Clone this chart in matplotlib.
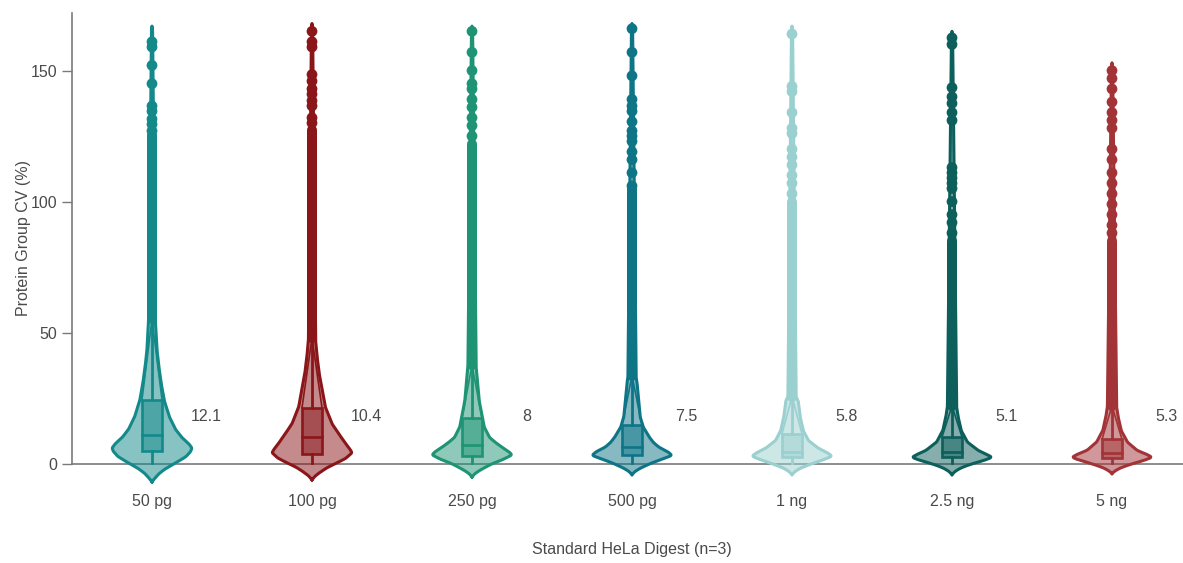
import numpy as np
import matplotlib
matplotlib.use("Agg")
import matplotlib.pyplot as plt

# categories and colours
categories = ["50 pg", "100 pg", "250 pg", "500 pg", "1 ng", "2.5 ng", "5 ng"]
colors = ["#13898A", "#8A161A", "#1E9474", "#0E7587", "#9AD0CF", "#0D5F5C", "#A23336"]
median_labels = ["12.1", "10.4", "8", "7.5", "5.8", "5.1", "5.3"]

# violin outlines: (CV value, relative half width, 39 = widest)
violin_y = [
    [-7.0, -5.5, -3.8, -2.0, 0.0, 2.6, 4.5, 5.9, 7.5, 10, 13, 17.8, 24, 30.5, 37, 43, 50, 55, 165, 167],
    [-6.2, -4.8, -3.3, -1.5, 0.0, 2.0, 4.1, 5.5, 7.5, 11.4, 15.2, 21.6, 28, 34.4, 40.7, 47, 166, 168],
    [-5.1, -3.8, -2.5, -1.0, 0.0, 1.5, 3.3, 4.5, 6.3, 8, 10, 13.9, 17.8, 24, 30.5, 37, 165, 167],
    [-4.2, -3.0, -1.8, -0.5, 0.5, 1.8, 3.1, 4.5, 6.3, 8, 10, 13.9, 17.8, 24, 30.5, 33, 166, 168],
    [-4.2, -3.0, -1.8, -0.7, 0.3, 1.5, 2.8, 4.0, 5.9, 8.8, 12.6, 17.8, 24, 25.4, 165, 167],
    [-4.2, -3.0, -1.8, -0.7, 0.3, 1.3, 2.4, 3.5, 5.0, 8.2, 12.6, 17.8, 21.6, 163, 165],
    [-3.8, -2.8, -1.7, -0.7, 0.3, 1.3, 2.4, 3.5, 5.0, 8.2, 12.6, 17.8, 21.6, 151, 153],
]
violin_w = [
    [0, 3, 7, 13, 22, 33, 37.5, 39, 36, 29, 23, 17, 12, 9, 6.7, 5, 4, 3.2, 0.6, 0],
    [0, 3, 8, 15, 23, 33, 39, 37, 33, 26, 19.5, 13, 10, 7, 5, 3.5, 0.6, 0],
    [0, 3, 8, 15, 20, 30, 39, 36, 29, 23, 17, 12, 10, 7, 5.5, 4, 0.6, 0],
    [0, 3, 8, 15, 21, 30, 39, 35, 26, 21, 17, 11, 8, 6.5, 5, 4, 0.6, 0],
    [0, 3, 8, 15, 22, 31, 39, 35, 25.5, 16, 11, 8, 6, 4, 0.6, 0],
    [0, 3, 8, 15, 23, 32, 39, 34, 25.5, 15, 9, 6, 4.5, 0.6, 0],
    [0, 3, 8, 15, 23, 32, 39, 34, 24.5, 15, 9, 6, 4.5, 0.6, 0],
]

# box statistics
q1 = [4.6, 3.6, 2.8, 3.1, 2.4, 2.4, 2.2]
med = [11.0, 10.1, 6.9, 6.3, 4.3, 4.4, 4.0]
q3 = [24.4, 21.3, 17.4, 14.6, 11.4, 10.1, 9.2]
whisk_lo = [0.2, 0.2, 0.2, 0.2, 0.2, 0.2, 0.2]
whisk_hi = [55, 48, 37.5, 33.5, 25.5, 22, 22]

# outliers: densely packed range plus single points above it
dense_hi = [125.5, 127.5, 122, 105, 100, 85, 85]
outliers = [
    [161, 159, 152, 145, 136.5, 134.5, 131.5, 129.5, 127],
    [165, 161, 159, 148.5, 146, 143, 141, 138.5, 136.5, 132, 130],
    [165, 157, 150, 145, 143, 139, 136, 132, 129, 125],
    [166, 157, 148, 139, 136.5, 134.5, 130.5, 127, 125, 123, 119, 116, 111, 106],
    [164, 144, 142, 134, 128, 126, 120, 117, 114, 110, 107, 103],
    [162.5, 160, 143.5, 140, 137.5, 134, 131, 113, 111, 109, 107, 105, 100, 95, 92, 88],
    [150, 147, 143, 138, 134, 131, 128, 120, 116, 111, 107, 103, 99, 95, 91, 88],
]

FONT = "Liberation Sans"
TXT = "#4a4a4a"
GREY = "#7a7a7a"
HALF = 0.25 / 39.0      # violin half width per unit of read width
BOX_HALF = 0.0625

fig = plt.figure(figsize=(11.83, 5.63), dpi=100)
ax = fig.add_axes([72 / 1183, 78.5 / 563, 1120 / 1183, 471.5 / 563])

for i, c in enumerate(colors):
    # violin body
    yy = np.arange(violin_y[i][0], violin_y[i][-1] + 0.05, 0.1)
    ww = np.interp(yy, violin_y[i], violin_w[i])
    k = np.ones(9) / 9
    ww = np.convolve(np.pad(ww, 4, mode="edge"), k, mode="valid")
    ww[0] = ww[-1] = 0
    xs = np.concatenate([i - ww * HALF, (i + ww * HALF)[::-1]])
    ys = np.concatenate([yy, yy[::-1]])
    ax.fill(xs, ys, facecolor=c, alpha=0.5, edgecolor="none", zorder=3)
    ax.plot(xs, ys, color=c, lw=2.2, zorder=3, solid_joinstyle="round")

    # whiskers
    ax.plot([i, i], [whisk_lo[i], q1[i]], color=c, lw=2.0, zorder=4)
    ax.plot([i, i], [q3[i], whisk_hi[i]], color=c, lw=2.0, zorder=4)
    ax.plot([i - BOX_HALF, i], [q3[i], whisk_hi[i]], color=c, lw=1.2, zorder=4)
    ax.plot([i + BOX_HALF, i], [q3[i], whisk_hi[i]], color=c, lw=1.2, zorder=4)

    # box
    ax.bar(i, q3[i] - q1[i], bottom=q1[i], width=2 * BOX_HALF,
           facecolor=c, alpha=0.5, edgecolor="none", zorder=5)
    ax.bar(i, q3[i] - q1[i], bottom=q1[i], width=2 * BOX_HALF,
           facecolor="none", edgecolor=c, lw=1.9, zorder=5)
    ax.plot([i - BOX_HALF, i + BOX_HALF], [med[i], med[i]], color=c, lw=1.9, zorder=5)

    # outliers
    ax.plot([i, i], [whisk_hi[i], dense_hi[i]], color=c, lw=7.2,
            solid_capstyle="round", zorder=6)
    ax.scatter([i] * len(outliers[i]), outliers[i], s=60, color=c,
               edgecolor="none", zorder=6)

    ax.text(i + 0.34, 18, median_labels[i], ha="center", va="center",
            fontsize=11.5, family=FONT, color=TXT)

ax.set_xlim(-0.5, 6.5)
ax.set_ylim(-8, 172)

for s in ["top", "right"]:
    ax.spines[s].set_visible(False)
ax.spines["left"].set_bounds(0, 172)
ax.spines["bottom"].set_position(("data", 0))
for s in ["left", "bottom"]:
    ax.spines[s].set_color(GREY)
    ax.spines[s].set_linewidth(1.2)
    ax.spines[s].set_zorder(2)

ax.set_yticks([0, 50, 100, 150])
ax.set_xticks(range(len(categories)))
ax.set_xticklabels(categories)
ax.tick_params(axis="y", length=7, width=1, color=GREY, pad=3.5,
               labelsize=11.5, labelcolor=TXT)
ax.tick_params(axis="x", length=0, pad=22, labelsize=11.5, labelcolor=TXT)
for lab in ax.get_xticklabels() + ax.get_yticklabels():
    lab.set_family(FONT)

ax.set_xlabel("Standard HeLa Digest (n=3)", fontsize=11.5, family=FONT,
              color=TXT, labelpad=24)
ax.set_ylabel("Protein Group CV (%)", fontsize=11.5, family=FONT, color=TXT)
ax.yaxis.set_label_coords(-0.037, (484.5 - 238) / 471.5)

fig.savefig("out.png", dpi=100)
